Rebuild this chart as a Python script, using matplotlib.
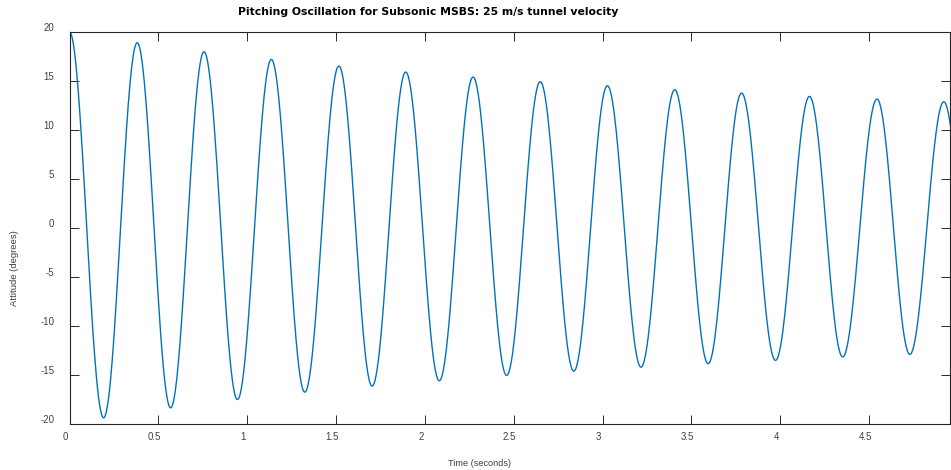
import numpy as np
import matplotlib
matplotlib.use('Agg')
import matplotlib.pyplot as plt
from matplotlib.transforms import ScaledTranslation

plt.rcParams['font.family'] = ['Liberation Sans', 'DejaVu Sans']
plt.rcParams['axes.unicode_minus'] = False

# turning points of the pitching oscillation
peak_times = [0.0, 0.192, 0.381, 0.569, 0.757, 0.945, 1.136, 1.324, 1.516, 1.703,
              1.892, 2.081, 2.271, 2.460, 2.649, 2.838, 3.027, 3.216, 3.406, 3.594,
              3.782, 3.973, 4.164, 4.351, 4.544, 4.729, 4.920, 5.108]
peak_values = [20.0, -19.42, 18.9, -18.4, 17.98, -17.55, 17.2, -16.8, 16.52, -16.18,
               15.91, -15.63, 15.40, -15.09, 14.92, -14.65, 14.51, -14.24, 14.10, -13.89,
               13.76, -13.55, 13.42, -13.2, 13.15, -12.94, 12.87, -12.7]
x_ticks = [0, 0.5, 1, 1.5, 2, 2.5, 3, 3.5, 4, 4.5]
x_tick_labels = ['0', '0.5', '1', '1.5', '2', '2.5', '3', '3.5', '4', '4.5']
y_ticks = [-20, -15, -10, -5, 0, 5, 10, 15, 20]
t_end = 4.955


def swing_curve(times, values, n=60):
    # join consecutive turning points with half-cosine swings
    ts, ys = [], []
    for i in range(len(times) - 1):
        s = np.linspace(0, 1, n, endpoint=False)
        w = (1 - np.cos(np.pi * s)) / 2
        ts.append(times[i] + (times[i + 1] - times[i]) * s)
        ys.append(values[i] + (values[i + 1] - values[i]) * w)
    ts.append([times[-1]])
    ys.append([values[-1]])
    return np.concatenate(ts), np.concatenate(ys)


t, y = swing_curve(peak_times, peak_values)

fig = plt.figure(figsize=(9.51, 4.70), dpi=100)
ax = fig.add_axes([69.5 / 951, 1 - 423.5 / 470, (950 - 69.5) / 951, (423.5 - 32) / 470])
ax.plot(t, y, color='#0072BD', lw=1.0)

ax.set_xlim(0, t_end)
ax.set_ylim(-20, 20)
ax.set_xticks(x_ticks)
ax.set_xticklabels(x_tick_labels)
ax.set_yticks(y_ticks)

dark = '#262626'
for sp in ax.spines.values():
    sp.set_color(dark)
    sp.set_linewidth(0.8)
ax.tick_params(direction='in', length=6.5, width=0.7, colors=dark, labelcolor='#404040',
               labelsize=7, top=True, right=True)
ax.tick_params(axis='y', pad=11)
ax.tick_params(axis='x', pad=6)

for lab in ax.get_yticklabels():
    lab.set_transform(lab.get_transform() + ScaledTranslation(0, 0.05, fig.dpi_scale_trans))
for lab in ax.get_xticklabels():
    lab.set_transform(lab.get_transform() + ScaledTranslation(-0.04, 0, fig.dpi_scale_trans))

fig.text(428 / 951, 1 - 12 / 470, 'Pitching Oscillation for Subsonic MSBS: 25 m/s tunnel velocity',
         ha='center', va='center', fontsize=7.8, fontweight='bold', color='black',
         family=['DejaVu Sans'])
fig.text(480 / 951, 1 - 463 / 470, 'Time (seconds)', ha='center', va='center',
         fontsize=6.6, color='#404040')
fig.text(15 / 951, 1 - 268 / 470, 'Attitude (degrees)', ha='center', va='center',
         rotation=90, fontsize=6.8, color='#404040')

plt.savefig('out.png', dpi=100)
plt.close()
